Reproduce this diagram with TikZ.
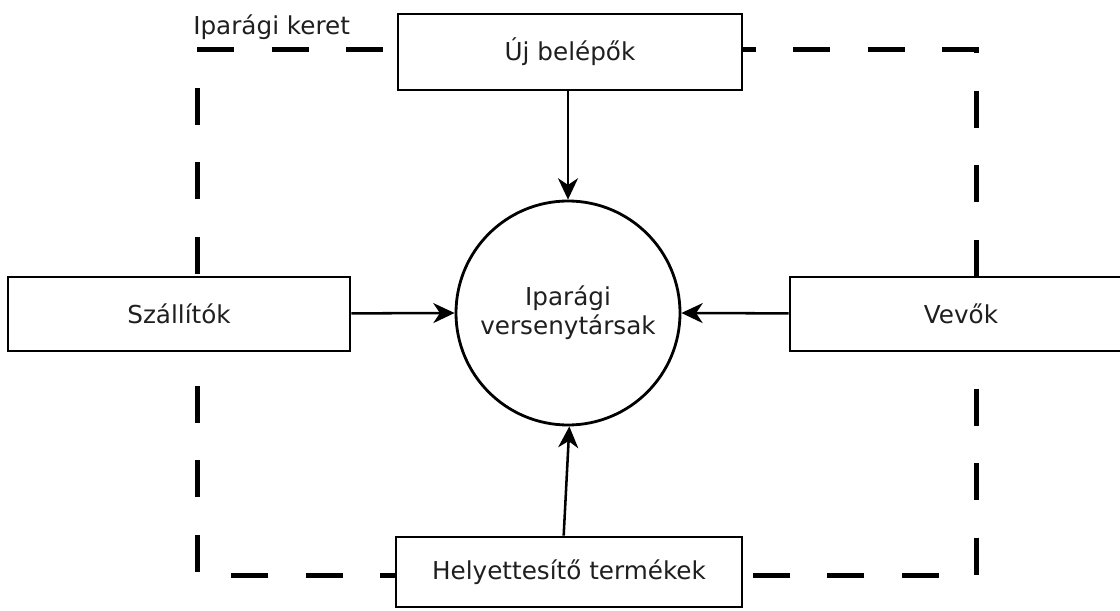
\documentclass[tikz,border=0pt]{standalone}
\usepackage{fontspec}
\setmainfont{DejaVu Sans}
\usetikzlibrary{arrows.meta}
\begin{document}
\begin{tikzpicture}[x=0.75pt,y=-0.75pt,
  box/.style={draw=black,fill=white,line width=2.1pt,inner sep=0pt,text=black!88,font=\fontsize{18.5}{22}\selectfont},
  frame/.style={line width=3.75pt,dash pattern=on 27.94pt off 27.94pt},
  conn/.style={line width=1.9pt,-{Stealth[length=16pt,width=15pt,inset=5pt]}}]
\useasboundingbox (0,0) rectangle (1120,610);
% dashed industry frame
\coordinate (ftl) at (197,50);
\coordinate (ftr) at (976,50);
\coordinate (fbr) at (976,575);
\coordinate (fbl) at (197,575);
\coordinate (fend) at (197,52);
\draw[frame] (ftl) -- (ftr) -- (fbr) -- (fbl) -- (fend);
\node[anchor=south west,inner sep=0pt,text=black!88,font=\fontsize{18.5}{22}\selectfont] (lab) at (193,40) {Iparági keret};
% boxes
\node[box,minimum width=258pt,minimum height=57pt] (top) at (570,52) {Új belépők};
\node[box,minimum width=256.5pt,minimum height=55.5pt] (left) at (179,314) {Szállítók};
\node[box,minimum width=256.5pt,minimum height=55.5pt] (right) at (961,314) {Vevők};
\node[box,minimum width=259.5pt,minimum height=52.5pt] (bot) at (569,572) {Helyettesítő termékek};
\node[box,circle,minimum size=168pt,align=center] (circ) at (568,313) {Iparági\\versenytársak};
% arrows
\draw[conn] (top.south -| circ.north) -- (circ.north);
\draw[conn] (left) -- (circ.west);
\draw[conn] (right) -- (circ.east);
\draw[conn] ([xshift=-4pt]bot.north) -- ([xshift=1pt]circ.south);
\end{tikzpicture}
\end{document}
